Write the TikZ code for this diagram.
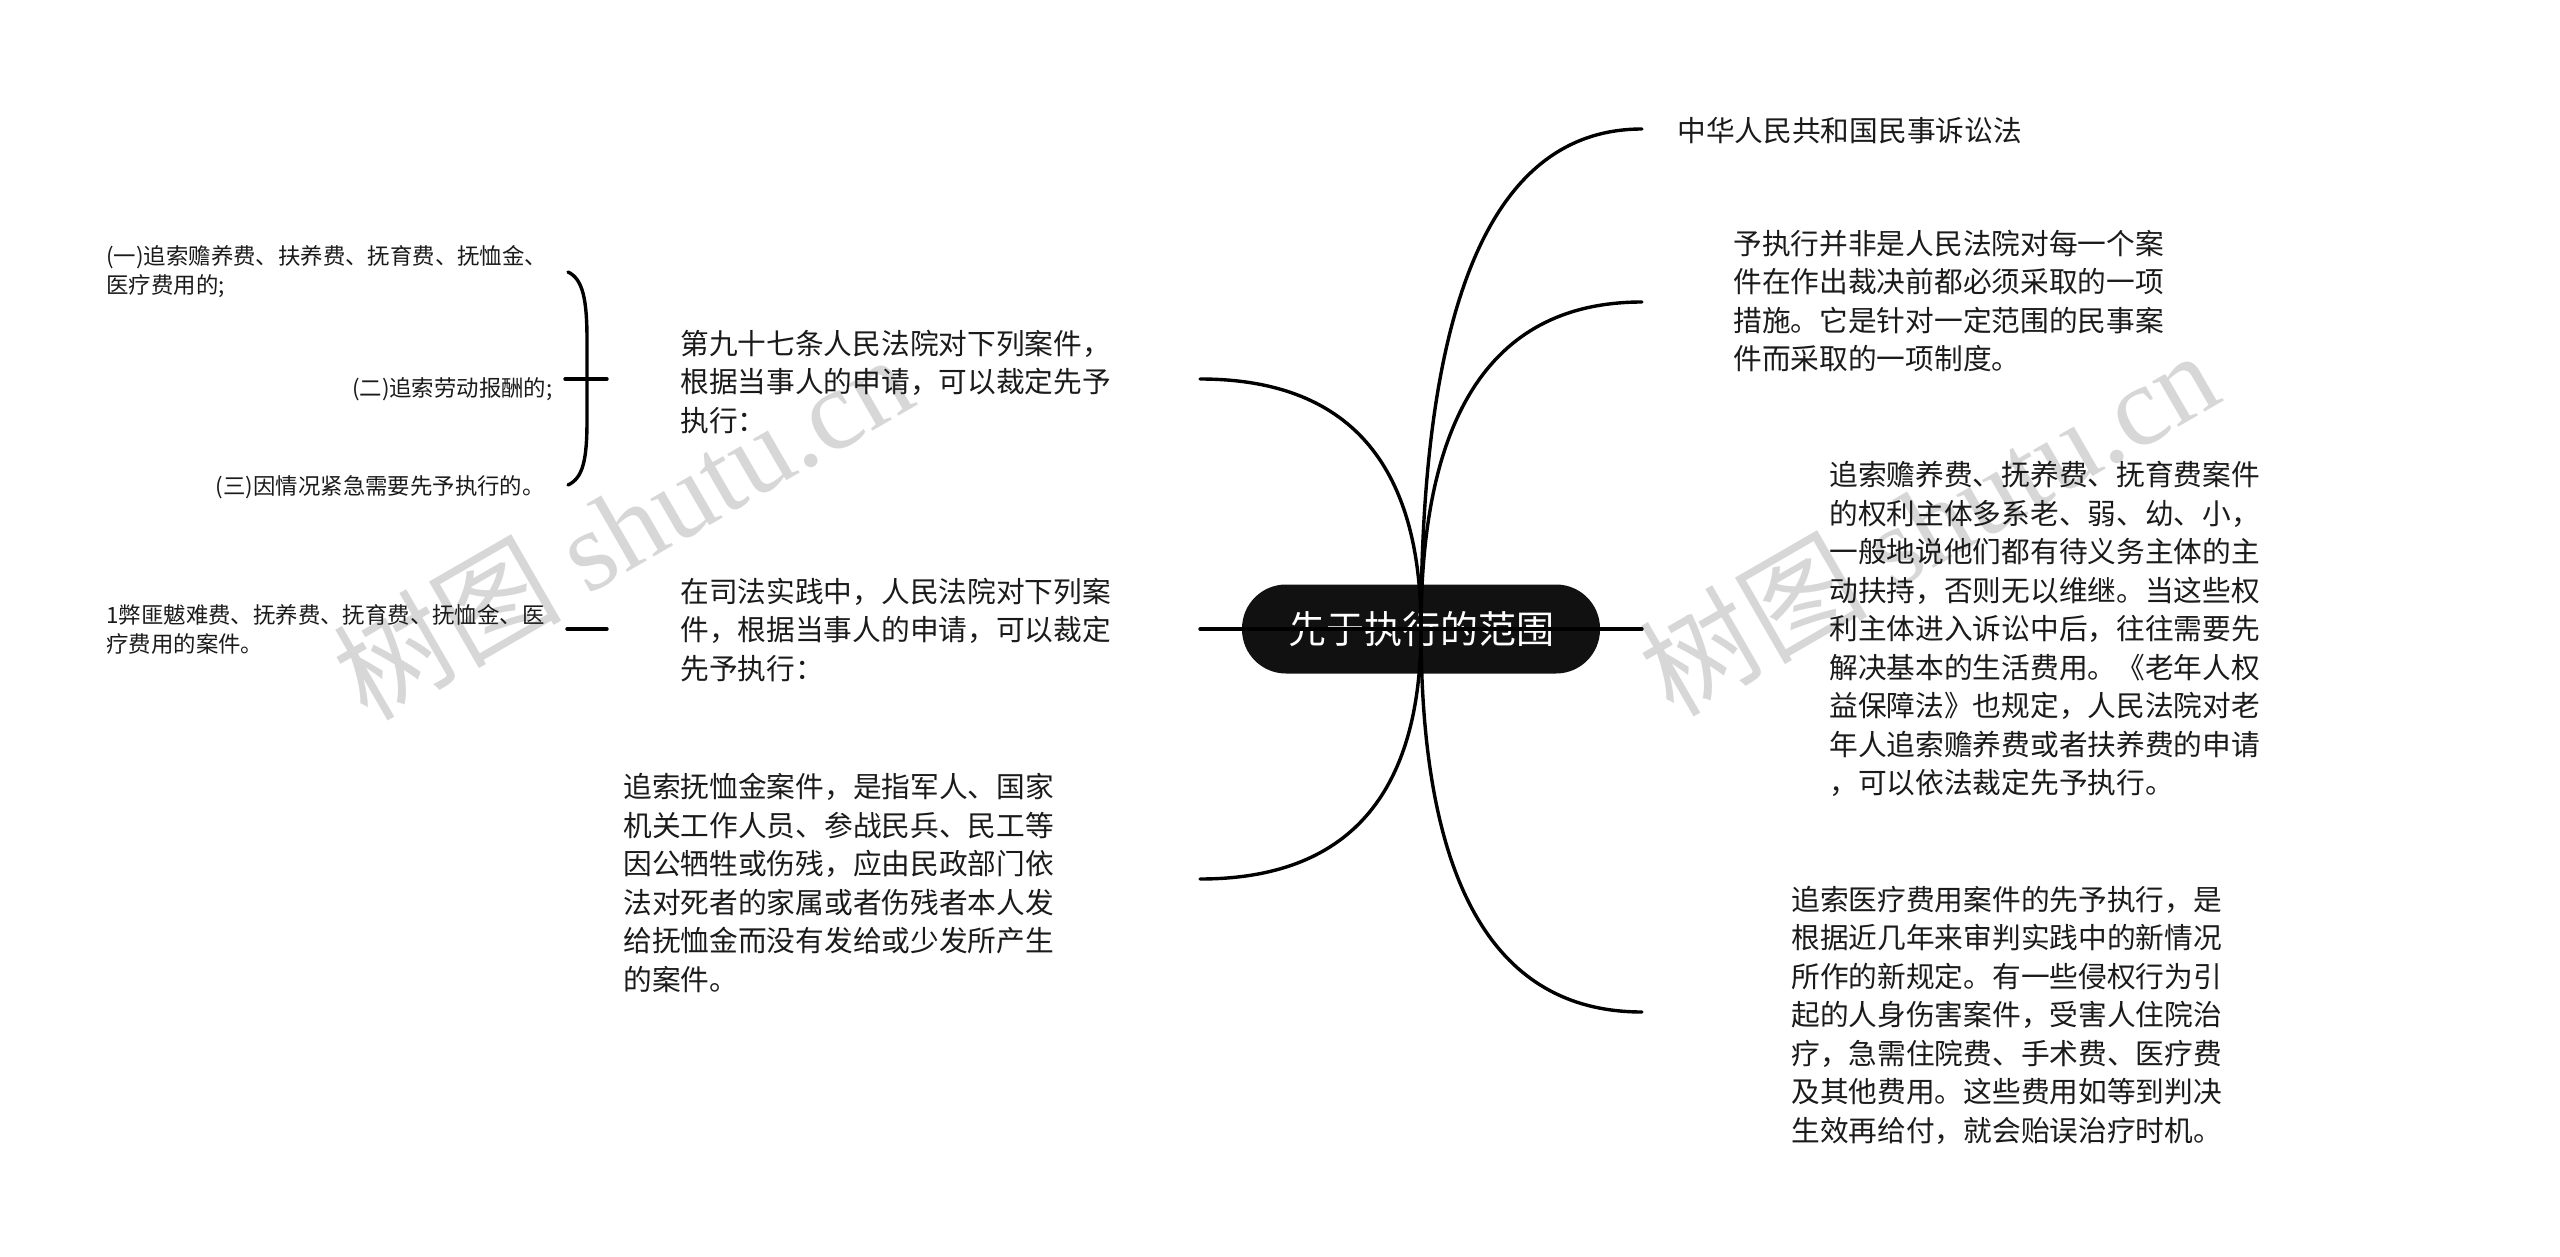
\documentclass[tikz,border=0pt]{standalone}
\usepackage{fontspec}
\setmainfont{Noto Sans CJK SC}
\newfontfamily\markfont{Liberation Serif}
\usetikzlibrary{calc}

\definecolor{markgray}{RGB}{215,215,215}
\definecolor{rootblack}{RGB}{17,17,17}
\definecolor{inkblack}{RGB}{26,26,26}

\tikzset{
  topic/.style={inner sep=0pt, align=left, text=inkblack, font=\fontsize{14.35pt}{19.25pt}\selectfont},
  subtopic/.style={inner sep=0pt, align=left, text=inkblack, font=\fontsize{11.2pt}{14.5pt}\selectfont},
  branch/.style={line width=1.7pt, line cap=round},
  watermark/.style={rotate=30, text=markgray, inner sep=0pt, font=\fontsize{57pt}{57pt}\selectfont}
}

\begin{document}
\begin{tikzpicture}[x=0.5pt, y=-0.5pt]
        \useasboundingbox (0,0) rectangle (2560,1257);

        % Watermarks
        \node[watermark] (markleft) at (622,526) {树图 {\markfont shutu.cn}};
        \node[watermark] (markright) at (1928,522) {树图 {\markfont shutu.cn}};

        % Central topic
        \node[fill=rootblack, text=white, rounded corners=22pt, minimum width=179pt, minimum height=44.5pt,
              font=\fontsize{19pt}{19pt}\selectfont] (root) at (1421,629) {先于执行的范围};

        % Right topics
        \node[topic, anchor=west] (law) at (1677,131) {中华人民共和国民事诉讼法};
        \node[topic, anchor=west] (measure) at (1733,301) {予执行并非是人民法院对每一个案\\件在作出裁决前都必须采取的一项\\措施。它是针对一定范围的民事案\\件而采取的一项制度。};
        \node[topic, anchor=west] (support) at (1829,629) {追索赡养费、抚养费、抚育费案件\\的权利主体多系老、弱、幼、小，\\一般地说他们都有待义务主体的主\\动扶持，否则无以维继。当这些权\\利主体进入诉讼中后，往往需要先\\解决基本的生活费用。《老年人权\\益保障法》也规定，人民法院对老\\年人追索赡养费或者扶养费的申请\\，可以依法裁定先予执行。};
        \node[topic, anchor=west] (medical) at (1791,1015) {追索医疗费用案件的先予执行，是\\根据近几年来审判实践中的新情况\\所作的新规定。有一些侵权行为引\\起的人身伤害案件，受害人住院治\\疗，急需住院费、手术费、医疗费\\及其他费用。这些费用如等到判决\\生效再给付，就会贻误治疗时机。};

        % Left topics
        \node[topic, anchor=west] (article) at (680,382) {第九十七条人民法院对下列案件，\\根据当事人的申请，可以裁定先予\\执行：};
        \node[topic, anchor=west] (practice) at (680,630) {在司法实践中，人民法院对下列案\\件，根据当事人的申请，可以裁定\\先予执行：};
        \node[topic, anchor=west] (pension) at (623,883) {追索抚恤金案件，是指军人、国家\\机关工作人员、参战民兵、民工等\\因公牺牲或伤残，应由民政部门依\\法对死者的家属或者伤残者本人发\\给抚恤金而没有发给或少发所产生\\的案件。};

        % Sub topics
        \node[subtopic, anchor=west] (itemone) at (106,272) {(一)追索赡养费、扶养费、抚育费、抚恤金、\\医疗费用的;};
        \node[subtopic, anchor=east] (itemtwo) at (553,389) {(二)追索劳动报酬的;};
        \node[subtopic, anchor=east] (itemthree) at (545,487) {(三)因情况紧急需要先予执行的。};
        \node[subtopic, anchor=west] (cases) at (106,629) {1弊匪魃难费、抚养费、抚育费、抚恤金、医\\疗费用的案件。};

        % Connector ends
        \coordinate (law-in) at (1642,129);
        \coordinate (measure-in) at (1642,302);
        \coordinate (support-in) at (1642,629);
        \coordinate (medical-in) at (1642,1012);
        \coordinate (article-in) at (1200,379);
        \coordinate (practice-in) at (1200,629);
        \coordinate (pension-in) at (1200,879);
        \coordinate (brace-tip) at (607,379);
        \coordinate (brace-mid) at (587,379);
        \coordinate (itemtwo-out) at (565,379);
        \coordinate (cases-out) at (567,629);
        \coordinate (cases-tip) at (607,629);

        % Branches to the right
        \draw[branch] (root.center) .. controls ($(root.center)!2/3!(root.center |- law-in)$) and ($(law-in)!2/3!(root.center |- law-in)$) .. (law-in);
        \draw[branch] (root.center) .. controls ($(root.center)!2/3!(root.center |- measure-in)$) and ($(measure-in)!2/3!(root.center |- measure-in)$) .. (measure-in);
        \draw[branch] (root.center) -- (support-in);
        \draw[branch] (root.center) .. controls ($(root.center)!2/3!(root.center |- medical-in)$) and ($(medical-in)!2/3!(root.center |- medical-in)$) .. (medical-in);

        % Branches to the left
        \draw[branch] (root.center) .. controls ($(root.center)!2/3!(root.center |- article-in)$) and ($(article-in)!2/3!(root.center |- article-in)$) .. (article-in);
        \draw[branch] (root.center) -- (practice-in);
        \draw[branch] (root.center) .. controls ($(root.center)!2/3!(root.center |- pension-in)$) and ($(pension-in)!2/3!(root.center |- pension-in)$) .. (pension-in);

        % Brace for the three items
        \draw[branch] (568,272) .. controls (583,279) and (587,300) .. (587,340) -- (587,420) .. controls (587,460) and (583,478) .. (568,485);
        \draw[branch] (brace-mid) -- (brace-tip);
        \draw[branch] (itemtwo-out) -- (brace-mid);

        % Line for the cases item
        \draw[branch] (cases-out) -- (cases-tip);
\end{tikzpicture}
\end{document}
